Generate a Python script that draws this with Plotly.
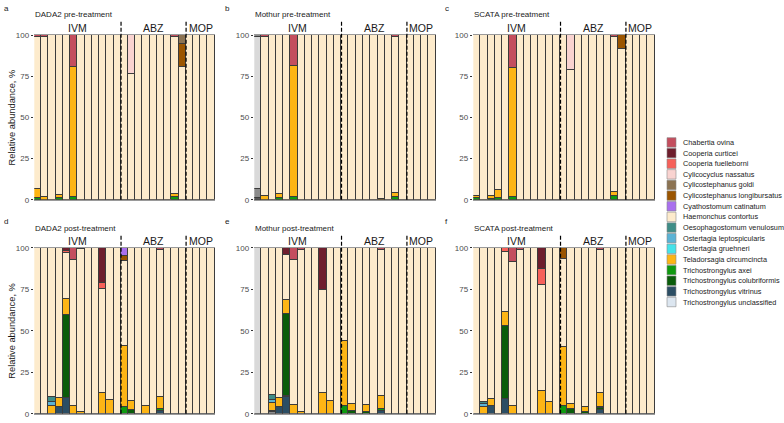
import plotly.graph_objects as go

W, H = 784, 423
FONT = "Liberation Sans, Arial, sans-serif"
bars = list(range(1, 26))

# ---------------- legend (order as shown) ----------------
legend_species = [
    "Chabertia ovina", "Cooperia curticei", "Cooperia fuelleborni", "Cylicocyclus nassatus",
    "Cylicostephanus goldi", "Cylicostephanus longibursatus", "Cyathostomum catinatum",
    "Haemonchus contortus", "Oesophagostomum venulosum", "Ostertagia leptospicularis",
    "Ostertagia gruehneri", "Teladorsagia circumcincta", "Trichostrongylus axei",
    "Trichostrongylus colubriformis", "Trichostrongylus vitrinus", "Trichostrongylus unclassified",
]
colors = {
    "Chabertia ovina": "#C44E5E", "Cooperia curticei": "#6E1E2D", "Cooperia fuelleborni": "#F6615A",
    "Cylicocyclus nassatus": "#F9D3D0", "Cylicostephanus goldi": "#8C7352",
    "Cylicostephanus longibursatus": "#9B5500", "Cyathostomum catinatum": "#A970EE",
    "Haemonchus contortus": "#FDEBCC", "Oesophagostomum venulosum": "#3E8D87",
    "Ostertagia leptospicularis": "#5BB3D5", "Ostertagia gruehneri": "#45E3EA",
    "Teladorsagia circumcincta": "#FDB515", "Trichostrongylus axei": "#0F9A10",
    "Trichostrongylus colubriformis": "#0A5C0A", "Trichostrongylus vitrinus": "#2C4E64",
    "Trichostrongylus unclassified": "#DCE6F0",
    "Other dark": "#555555", "Other mid": "#8C8C8C", "Other light": "#D9D9D9", "Other top": "#8C8C8C",
}
stack_order = [
    "Other dark", "Other mid", "Other light", "Trichostrongylus vitrinus",
    "Trichostrongylus unclassified", "Trichostrongylus colubriformis", "Trichostrongylus axei",
    "Teladorsagia circumcincta", "Ostertagia gruehneri", "Ostertagia leptospicularis",
    "Oesophagostomum venulosum", "Haemonchus contortus", "Cylicostephanus longibursatus",
    "Cylicostephanus goldi", "Cyathostomum catinatum", "Cylicocyclus nassatus",
    "Cooperia fuelleborni", "Cooperia curticei", "Chabertia ovina", "Other top",
]

groups = ["IVM", "ABZ", "MOP"]
group_centers = [6.5, 17, 23.5]
group_breaks = [12.5, 21.5]

# ---------------- data (bar number -> %), Haemonchus as full lists ----------------
haem_dada2_pre = [91.8, 97.5, 100, 97.2, 100, 0, 100, 100, 100, 100, 100, 100, 100,
                  76.5, 100, 100, 100, 100, 100, 95.2, 80.5, 100, 100, 100, 100]
dada2_pre = {
    "Chabertia ovina": {1: 1.5, 2: 1, 6: 19.5, 20: 1.5},
    "Cylicocyclus nassatus": {14: 23.5},
    "Cylicostephanus goldi": {21: 5.5},
    "Cylicostephanus longibursatus": {21: 14},
    "Teladorsagia circumcincta": {1: 5.5, 2: 1.5, 4: 2, 6: 79, 20: 1.8},
    "Trichostrongylus axei": {1: 1.2, 4: 0.8, 6: 1.5, 20: 1.5},
}

haem_mothur_pre = [0, 97, 100, 96.7, 100, 0, 100, 100, 100, 100, 100, 100, 100,
                   100, 100, 100, 100, 99.5, 100, 94.2, 100, 100, 100, 100, 100]
mothur_pre = {
    "Chabertia ovina": {2: 1, 6: 18.8, 20: 1.5},
    "Teladorsagia circumcincta": {2: 2, 4: 2.5, 6: 79.7, 18: 0.5, 20: 2.8},
    "Trichostrongylus axei": {4: 0.8, 6: 1.5, 20: 1.5},
    "Other dark": {1: 1.2},
    "Other mid": {1: 5.3},
    "Other light": {1: 92},
    "Other top": {1: 1.5},
}

haem_scata_pre = [97.5, 100, 98, 94, 100, 0, 100, 100, 100, 100, 100, 100, 100,
                  79, 100, 100, 100, 100, 100, 94, 91.7, 100, 100, 100, 100]
scata_pre = {
    "Chabertia ovina": {6: 20, 20: 1.5},
    "Cylicocyclus nassatus": {14: 21},
    "Cylicostephanus longibursatus": {21: 8.3},
    "Teladorsagia circumcincta": {1: 1.5, 3: 1.5, 4: 5, 6: 78.5, 20: 2.5},
    "Trichostrongylus axei": {1: 1, 3: 0.5, 4: 1, 6: 1.5, 20: 2},
}

haem_dada2_post = [100, 100, 90, 90.5, 28, 88, 98.5, 100, 100, 62.5, 91.6, 100, 51,
                   92.3, 100, 95, 100, 88.2, 100, 100, 100, 100, 100, 100, 100]
dada2_post = {
    "Chabertia ovina": {6: 7, 7: 0.5, 18: 1.5},
    "Cooperia curticei": {5: 2, 10: 21},
    "Cooperia fuelleborni": {5: 1, 10: 3.5},
    "Cylicostephanus longibursatus": {13: 3},
    "Cyathostomum catinatum": {13: 5},
    "Oesophagostomum venulosum": {3: 3},
    "Ostertagia leptospicularis": {3: 2.4},
    "Teladorsagia circumcincta": {3: 4.6, 4: 5.2, 5: 9.5, 6: 5, 7: 1, 10: 13, 11: 8.4,
                                  13: 36.5, 14: 5, 16: 5, 18: 7.5},
    "Trichostrongylus axei": {13: 4.5, 18: 1},
    "Trichostrongylus colubriformis": {5: 50, 14: 2.7},
    "Trichostrongylus vitrinus": {4: 4.3, 5: 9.5, 18: 1.8},
}

haem_mothur_post = [0, 100, 88.7, 90.4, 27.3, 87.1, 98, 100, 100, 61.5, 92.1, 100, 56,
                    94, 100, 94.5, 100, 87.8, 100, 100, 100, 100, 100, 100, 100]
mothur_post = {
    "Chabertia ovina": {6: 7.5, 7: 1, 18: 1.5},
    "Cooperia curticei": {5: 4, 10: 25.5},
    "Oesophagostomum venulosum": {3: 3},
    "Ostertagia leptospicularis": {3: 1.5},
    "Teladorsagia circumcincta": {3: 5, 4: 5.2, 5: 8.5, 6: 5.4, 7: 1, 10: 13, 11: 7.9,
                                  13: 39, 14: 4, 16: 4.5, 18: 7.5},
    "Trichostrongylus axei": {3: 0.6, 13: 5, 18: 1.2},
    "Trichostrongylus colubriformis": {5: 49.5, 14: 2, 16: 1},
    "Trichostrongylus vitrinus": {4: 4.4, 5: 10, 18: 2},
    "Trichostrongylus unclassified": {5: 0.7},
    "Other mid": {3: 1.2},
    "Other light": {1: 100},
}

haem_scata_post = [100, 92.7, 90.7, 100, 36.3, 86.9, 98.5, 100, 100, 63.7, 93, 100, 52.5,
                   94, 100, 96, 100, 86, 100, 100, 100, 100, 100, 100, 100]
scata_post = {
    "Chabertia ovina": {6: 8.4, 7: 1.5, 18: 1},
    "Cooperia curticei": {10: 12.7},
    "Cooperia fuelleborni": {5: 2.5, 10: 9.8},
    "Cylicostephanus longibursatus": {13: 6.9},
    "Oesophagostomum venulosum": {2: 1.3},
    "Ostertagia leptospicularis": {2: 1.5},
    "Teladorsagia circumcincta": {2: 4.5, 3: 4.3, 5: 8, 6: 4.7, 10: 13.8, 11: 7, 13: 36,
                                  14: 3, 16: 3, 18: 9},
    "Trichostrongylus axei": {13: 4.6, 18: 0.6},
    "Trichostrongylus colubriformis": {5: 44, 14: 3, 16: 1, 18: 1},
    "Trichostrongylus vitrinus": {3: 5, 5: 9.2, 18: 2.4},
}

panels = [
    ("a", "DADA2 pre-treatment", dada2_pre, haem_dada2_pre),
    ("b", "Mothur pre-treatment", mothur_pre, haem_mothur_pre),
    ("c", "SCATA pre-treatment", scata_pre, haem_scata_pre),
    ("d", "DADA2 post-treatment", dada2_post, haem_dada2_post),
    ("e", "Mothur post-treatment", mothur_post, haem_mothur_post),
    ("f", "SCATA post-treatment", scata_post, haem_scata_post),
]

# ---------------- layout geometry (pixels) ----------------
col_x = [(34.3, 215.0), (254.3, 436.0), (473.3, 655.0)]
row_y = [(31.7, 200.0), (249.0, 418.7)]   # (top, bottom)
title_x = [33, 253, 472]
letter_x = [2, 223, 443]
title_y = [11, 229]
letter_y = [5, 222]


def px(x):
    return x / W


def py(y):
    return 1 - y / H


fig = go.Figure()
layout = dict(
    width=W, height=H, margin=dict(l=0, r=0, t=0, b=0), autosize=False,
    paper_bgcolor="white", plot_bgcolor="white", barmode="stack", bargap=0,
    showlegend=False, font=dict(family=FONT, color="#222222"),
)
shapes, annotations = [], []

for p, (letter, title, minor, haem) in enumerate(panels):
    r, c = divmod(p, 3)
    sfx = "" if p == 0 else str(p + 1)
    xa, ya = "x" + sfx, "y" + sfx
    for sp in stack_order:
        if sp == "Haemonchus contortus":
            vals = [v if v > 0 else None for v in haem]
        elif sp in minor:
            vals = [minor[sp].get(b) for b in bars]
        else:
            continue
        fig.add_trace(go.Bar(
            x=bars, y=vals, xaxis=xa, yaxis=ya, width=1, name=sp,
            marker=dict(color=colors[sp], line=dict(color="#3c3c3c", width=1)),
            hoverinfo="name+y",
        ))
    x0, x1 = col_x[c]
    yt, yb = row_y[r]
    layout["xaxis" + sfx] = dict(
        domain=[px(x0), px(x1)], anchor=ya, range=[0.5, 25.5], showticklabels=False,
        ticks="", showgrid=False, zeroline=False, showline=True, mirror=True,
        linecolor="#9a9a9a", linewidth=1, fixedrange=True,
    )
    layout["yaxis" + sfx] = dict(
        domain=[py(yb), py(yt)], anchor=xa, range=[0, 100], tickvals=[0, 25, 50, 75, 100],
        ticks="outside", ticklen=2.5, tickcolor="#333333", tickwidth=0.8,
        tickfont=dict(size=8, color="#4d4d4d", family=FONT), showgrid=False,
        zeroline=False, showline=False, fixedrange=True,
    )
    for xb in group_breaks:
        shapes.append(dict(type="line", xref=xa, yref=ya + " domain", x0=xb, x1=xb,
                           y0=0, y1=1.08, line=dict(color="black", width=1.2, dash="4px,2px")))
    for g, gc in zip(groups, group_centers):
        annotations.append(dict(text=g, xref=xa, yref=ya + " domain", x=gc, y=1.0,
                                xanchor="center", yanchor="bottom", showarrow=False,
                                yshift=-1, font=dict(size=10.5, color="#1a1a1a", family=FONT)))
    annotations.append(dict(text=title, xref="paper", yref="paper", x=px(title_x[c]),
                            y=py(title_y[r]), xanchor="left", yanchor="middle",
                            showarrow=False, font=dict(size=8, color="#1a1a1a", family=FONT)))
    annotations.append(dict(text=letter, xref="paper", yref="paper", x=px(letter_x[c]),
                            y=py(letter_y[r]), xanchor="left", yanchor="middle",
                            showarrow=False, font=dict(size=8, color="#1a1a1a", family=FONT)))

for r in range(2):
    yt, yb = row_y[r]
    annotations.append(dict(text="Relative abundance, %", xref="paper", yref="paper",
                            x=px(12), y=py((yt + yb) / 2), textangle=-90, showarrow=False,
                            xanchor="center", yanchor="middle",
                            font=dict(size=9.3, color="#1a1a1a", family=FONT)))

# ---------------- manual legend ----------------
leg_top, leg_pitch = 136.0, 10.87
for i, sp in enumerate(legend_species):
    y0 = leg_top + i * leg_pitch
    shapes.append(dict(type="rect", xref="paper", yref="paper", x0=px(667), x1=px(676),
                       y0=py(y0 + leg_pitch - 0.6), y1=py(y0 + 0.6),
                       fillcolor=colors[sp], line=dict(color="#8a8a8a", width=0.6)))
    annotations.append(dict(text=sp, xref="paper", yref="paper", x=px(680.5),
                            y=py(y0 + leg_pitch / 2), xanchor="left", yanchor="middle",
                            showarrow=False, font=dict(size=7.3, color="#1a1a1a", family=FONT)))

layout["shapes"] = shapes
layout["annotations"] = annotations
fig.update_layout(**layout)
fig.write_html(
    "out.html",
    config={"displayModeBar": False},
    post_script="document.body.style.margin='0';document.body.style.overflow='hidden';",
)
